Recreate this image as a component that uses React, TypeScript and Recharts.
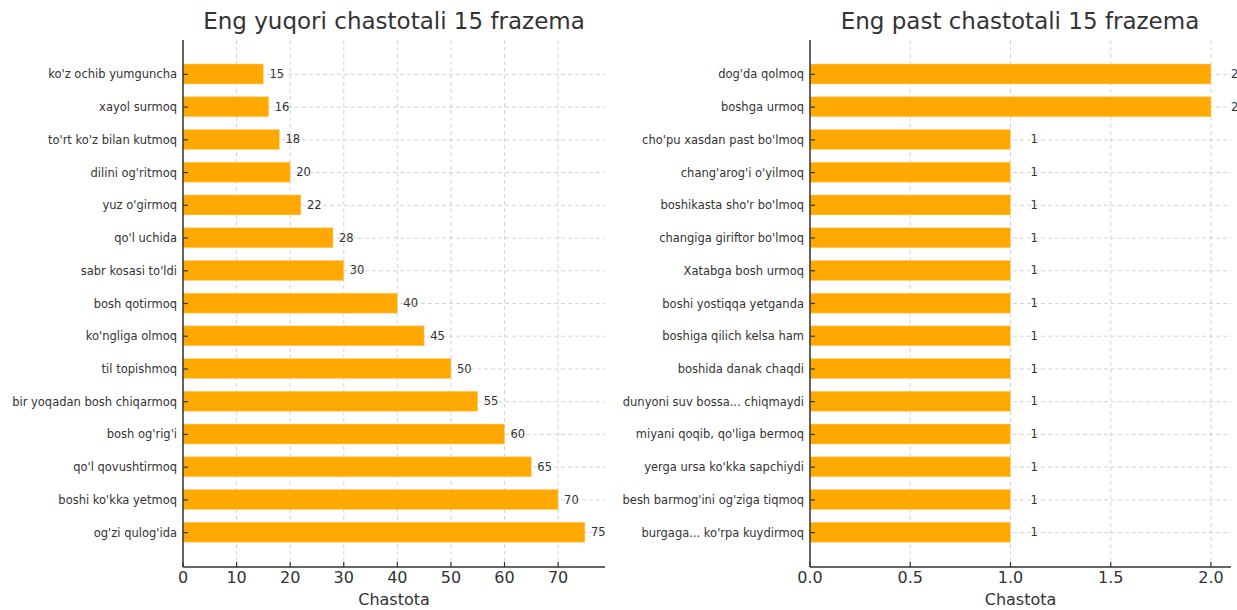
import React from 'react';
import {
  BarChart,
  Bar,
  XAxis,
  YAxis,
  CartesianGrid,
  LabelList,
  Label,
} from 'recharts';

// top 15 phrases
const topNames = [
  "ko'z ochib yumguncha",
  'xayol surmoq',
  "to'rt ko'z bilan kutmoq",
  "dilini og'ritmoq",
  "yuz o'girmoq",
  "qo'l uchida",
  "sabr kosasi to'ldi",
  'bosh qotirmoq',
  "ko'ngliga olmoq",
  'til topishmoq',
  'bir yoqadan bosh chiqarmoq',
  "bosh og'rig'i",
  "qo'l qovushtirmoq",
  "boshi ko'kka yetmoq",
  "og'zi qulog'ida",
];
const topValues = [15, 16, 18, 20, 22, 28, 30, 40, 45, 50, 55, 60, 65, 70, 75];
const topTicks = [0, 10, 20, 30, 40, 50, 60, 70];

// bottom 15 phrases
const lowNames = [
  "dog'da qolmoq",
  'boshga urmoq',
  "cho'pu xasdan past bo'lmoq",
  "chang'arog'i o'yilmoq",
  "boshikasta sho'r bo'lmoq",
  "changiga giriftor bo'lmoq",
  'Xatabga bosh urmoq',
  'boshi yostiqqa yetganda',
  'boshiga qilich kelsa ham',
  'boshida danak chaqdi',
  'dunyoni suv bossa... chiqmaydi',
  "miyani qoqib, qo'liga bermoq",
  "yerga ursa ko'kka sapchiydi",
  "besh barmog'ini og'ziga tiqmoq",
  "burgaga... ko'rpa kuydirmoq",
];
const lowValues = [2, 2, 1, 1, 1, 1, 1, 1, 1, 1, 1, 1, 1, 1, 1];
const lowTicks = [0, 0.5, 1, 1.5, 2];

const FONT = '"DejaVu Sans", sans-serif';
const TEXT = '#333333';
const BAR = '#FFA800';

const topData = topNames.map((name, i) => ({ name, value: topValues[i] }));
const lowData = lowNames.map((name, i) => ({ name, value: lowValues[i] }));

const valueLabel = (gap: number) => (props: any) => {
  const { x, y, width, height, value } = props;
  return (
    <text
      x={x + width + gap}
      y={y + height / 2}
      dominantBaseline="central"
      fontSize={11.5}
      fill={TEXT}
      fontFamily={FONT}
    >
      {value}
    </text>
  );
};

// category tick: single line label, tick mark pointing into the plot
const CatTick = (props: any) => {
  const { x, y, payload } = props;
  return (
    <g>
      <line x1={x + 6} x2={x + 11} y1={y} y2={y} stroke={TEXT} strokeWidth={1.2} />
      <text
        x={x}
        y={y}
        textAnchor="end"
        dominantBaseline="central"
        fontSize={11.5}
        fill={TEXT}
        fontFamily={FONT}
      >
        {payload.value}
      </text>
    </g>
  );
};

const numTick = (fmt?: (v: number) => string) => (props: any) => {
  const { x, y, payload } = props;
  return (
    <g>
      <line x1={x} x2={x} y1={y - 4} y2={y - 9} stroke={TEXT} strokeWidth={1.2} />
      <text
        x={x}
        y={y}
        textAnchor="middle"
        dominantBaseline="hanging"
        fontSize={16}
        fill={TEXT}
        fontFamily={FONT}
      >
        {fmt ? fmt(payload.value) : payload.value}
      </text>
    </g>
  );
};

interface PanelProps {
  data: { name: string; value: number }[];
  ticks: number[];
  max: number;
  left: number;
  width: number;
  yWidth: number;
  rightMargin: number;
  gap: number;
  fmt?: (v: number) => string;
}

function Panel({ data, ticks, max, left, width, yWidth, rightMargin, gap, fmt }: PanelProps) {
  return (
    <div style={{ position: 'absolute', left, top: 0 }}>
      <BarChart
        width={width}
        height={610}
        data={data}
        layout="vertical"
        margin={{ top: 40, right: rightMargin, bottom: 5, left: 0 }}
        style={{ overflow: 'hidden' }}
      >
        <XAxis
          type="number"
          domain={[0, max]}
          ticks={ticks}
          allowDataOverflow
          height={38}
          tick={numTick(fmt)}
          tickSize={0}
          tickMargin={4}
          tickLine={false}
          axisLine={{ stroke: TEXT, strokeWidth: 1.5 }}
        >
          <Label
            value="Chastota"
            position="insideBottom"
            offset={0}
            style={{ fontSize: 16, fill: TEXT, fontFamily: FONT }}
          />
        </XAxis>
        <YAxis
          type="category"
          dataKey="name"
          width={yWidth}
          interval={0}
          padding={{ top: 18, bottom: 18 }}
          tick={<CatTick />}
          tickSize={0}
          tickMargin={6}
          tickLine={false}
          axisLine={{ stroke: TEXT, strokeWidth: 1.5 }}
        />
        <Bar dataKey="value" fill={BAR} stroke="#ffd58a" strokeWidth={0.5} barSize={20} isAnimationActive={false}>
          <LabelList dataKey="value" content={valueLabel(gap)} />
        </Bar>
        <CartesianGrid stroke="#b8b8b8" strokeOpacity={0.6} strokeDasharray="4 3" syncWithTicks />
      </BarChart>
    </div>
  );
}

const titleStyle: React.CSSProperties = {
  position: 'absolute',
  top: 7,
  fontFamily: FONT,
  fontSize: 23,
  color: TEXT,
  textAlign: 'center',
  lineHeight: '28px',
  whiteSpace: 'nowrap',
};

export default function App() {
  return (
    <div style={{ position: 'absolute', left: 0, top: 0, width: 1237, height: 610, background: '#fff', overflow: 'hidden' }}>
      <Panel
        data={topData}
        ticks={topTicks}
        max={78.75}
        left={0}
        width={620}
        yWidth={183}
        rightMargin={15}
        gap={6}
      />
      <Panel
        data={lowData}
        ticks={lowTicks}
        max={2.1}
        left={620}
        width={617}
        yWidth={190}
        rightMargin={6}
        gap={20}
        fmt={(v: number) => v.toFixed(1)}
      />
      <div style={{ ...titleStyle, left: 194, width: 400 }}>Eng yuqori chastotali 15 frazema</div>
      <div style={{ ...titleStyle, left: 820, width: 400 }}>Eng past chastotali 15 frazema</div>
    </div>
  );
}
